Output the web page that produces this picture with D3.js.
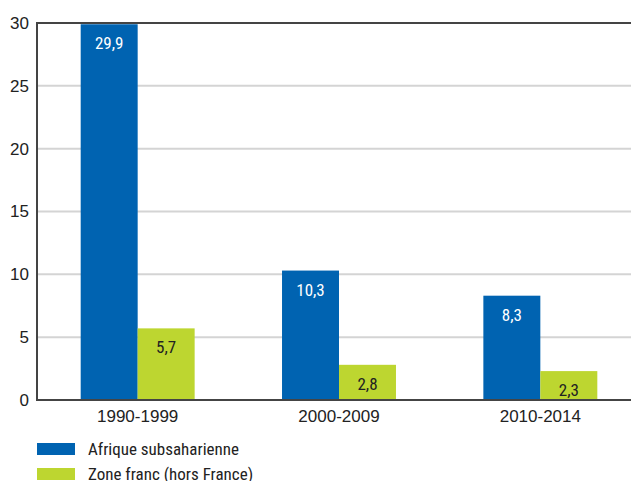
<!DOCTYPE html>
<html>
<head>
<meta charset="utf-8">
<script src="https://d3js.org/d3.v7.min.js"></script>
<style>
  body { margin: 0; background: #fff; }
  svg { display: block; font-family: "Liberation Sans Narrow", "Roboto Condensed", "Liberation Sans", Arial, sans-serif; }
</style>
</head>
<body>
<script>
// data
const periods = ["1990-1999", "2000-2009", "2010-2014"];
const afrique = [29.9, 10.3, 8.3];
const zoneFranc = [5.7, 2.8, 2.3];
const seriesNames = ["Afrique subsaharienne", "Zone franc (hors France)"];
const yTicks = [0, 5, 10, 15, 20, 25, 30];

const w = 631, h = 481;
const padLeft = 37, padTop = 23, plotBottom = 400, plotRight = 641;
const colors = ["#0063b1", "#bdd630"];
const labelColors = ["#fff", "#222"];
const fs = 17;

const svg = d3.select("body").append("svg")
    .attr("width", w)
    .attr("height", h);

const x = d3.scaleBand()
    .domain(periods)
    .range([padLeft, plotRight])
    .paddingInner(0.434)
    .paddingOuter(0.217);

const xSub = d3.scaleBand()
    .domain([0, 1])
    .range([0, x.bandwidth()]);

const y = d3.scaleLinear()
    .domain([0, 30])
    .range([plotBottom, padTop]);

// gridlines
svg.append("g")
    .selectAll("line")
    .data(yTicks.filter(t => t > 0 && t < 30))
    .join("line")
    .attr("x1", padLeft)
    .attr("x2", w)
    .attr("y1", d => y(d))
    .attr("y2", d => y(d))
    .attr("stroke", "#d4d4d4")
    .attr("stroke-width", 2);

// y tick labels
const yAxis = d3.axisLeft(y).tickValues(yTicks).tickSize(0).tickPadding(8);
const gy = svg.append("g")
    .attr("transform", "translate(" + padLeft + ",0)")
    .call(yAxis);
gy.select(".domain").remove();
gy.selectAll("text")
    .attr("font-size", fs)
    .attr("fill", "#222")
    .attr("font-family", "inherit");

// bars
const series = [afrique, zoneFranc];
series.forEach((vals, s) => {
  svg.append("g")
    .selectAll("rect")
    .data(vals)
    .join("rect")
    .attr("x", (d, i) => x(periods[i]) + xSub(s))
    .attr("y", d => y(d))
    .attr("width", xSub.bandwidth())
    .attr("height", d => y(0) - y(d))
    .attr("fill", colors[s]);

  svg.append("g")
    .selectAll("text")
    .data(vals)
    .join("text")
    .attr("x", (d, i) => x(periods[i]) + xSub(s) + xSub.bandwidth() / 2)
    .attr("y", d => y(d) + 25)
    .attr("text-anchor", "middle")
    .attr("font-size", fs)
    .attr("fill", labelColors[s])
    .text(d => d3.format(".1f")(d).replace(".", ","));
});

// frame lines: top, left
svg.append("line")
    .attr("x1", padLeft).attr("x2", w)
    .attr("y1", y(30)).attr("y2", y(30))
    .attr("stroke", "#444").attr("stroke-width", 2);
svg.append("line")
    .attr("x1", padLeft).attr("x2", padLeft)
    .attr("y1", y(30) - 1).attr("y2", y(0) + 1)
    .attr("stroke", "#444").attr("stroke-width", 2);

// x axis
const xAxis = d3.axisBottom(x).tickSize(0).tickPadding(10);
const gx = svg.append("g")
    .attr("transform", "translate(0," + plotBottom + ")")
    .call(xAxis);
gx.select(".domain")
    .attr("d", "M" + padLeft + ",0H" + w)
    .attr("stroke", "#444")
    .attr("stroke-width", 2);
gx.selectAll("text")
    .attr("font-size", fs)
    .attr("fill", "#222")
    .attr("font-family", "inherit");

// legend
const legend = svg.append("g")
    .selectAll("g")
    .data(seriesNames)
    .join("g")
    .attr("transform", (d, i) => "translate(37," + (443 + i * 25) + ")");
legend.append("rect")
    .attr("width", 38)
    .attr("height", 12)
    .attr("fill", (d, i) => colors[i]);
legend.append("text")
    .attr("x", 51)
    .attr("y", 6)
    .attr("dy", "0.35em")
    .attr("font-size", fs)
    .attr("fill", "#222")
    .text(d => d);
</script>
</body>
</html>
